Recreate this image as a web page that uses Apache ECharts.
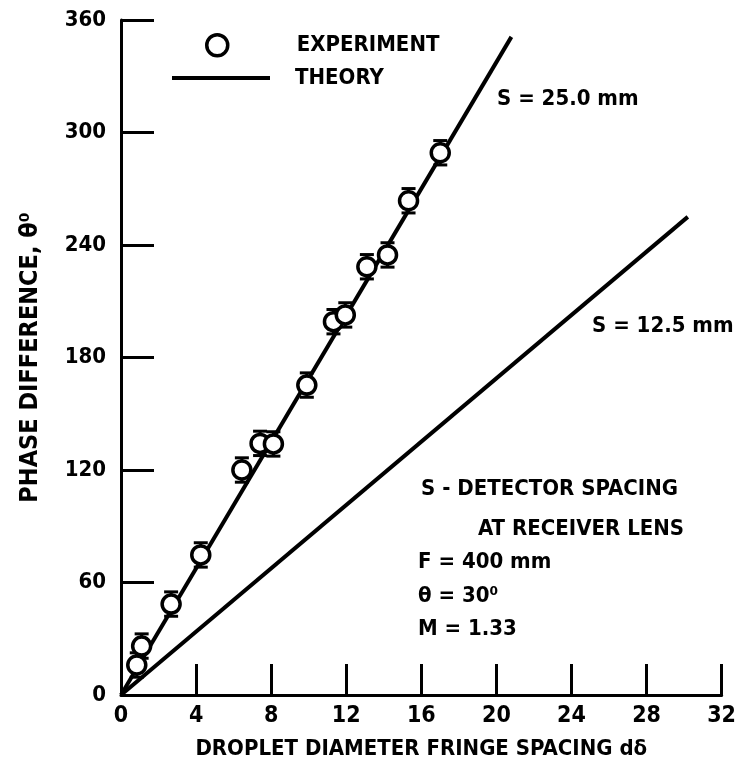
<!DOCTYPE html>
<html>
<head>
<meta charset="utf-8">
<script src="https://cdn.jsdelivr.net/npm/echarts@6/dist/echarts.min.js"></script>
<style>
html,body{margin:0;padding:0;background:#fff;}
#chart{width:739px;height:768px;}
</style>
</head>
<body>
<div id="chart"></div>
<script>
// ---- data ----
const expX   = [0.84, 1.10, 2.67, 4.25, 6.44, 7.41, 8.12, 9.90, 11.32, 11.95, 13.10, 14.20, 15.32, 17.01];
const expY   = [16.0, 26.1, 48.5, 74.7, 120.0, 134.2, 133.9, 165.3, 199.1, 202.7, 228.4, 234.7, 263.6, 289.2];
const expErr = [6.5, 6.5, 6.5, 6.5, 6.5, 6.5, 6.5, 6.5, 6.5, 6.5, 6.5, 6.5, 6.5, 6.5];
const theory25X = [0, 20.8];
const theory25Y = [0, 351];
const theory12X = [0, 30.2];
const theory12Y = [0, 255];
const xTicks = [0, 4, 8, 12, 16, 20, 24, 28, 32];
const yTicks = [0, 60, 120, 180, 240, 300, 360];

const FONT = "'Liberation Sans Narrow', 'DejaVu Sans Condensed', 'Arial Narrow', sans-serif";
const zip = (a, b) => a.map((v, i) => [v, b[i]]);

const chart = echarts.init(document.getElementById('chart'), null, {renderer: 'canvas'});

const txt = (x, y, text, size) => ({
  type: 'text', left: x, top: y,
  style: {text: text, fill: '#000', font: 'bold ' + (size || 22) + 'px ' + FONT}
});

const option = {
  backgroundColor: '#fff',
  animation: false,
  grid: {left: 121, right: 16, top: 20, bottom: 73, containLabel: false},
  xAxis: {
    type: 'value', min: xTicks[0], max: xTicks[xTicks.length - 1], interval: 4,
    name: 'DROPLET DIAMETER FRINGE SPACING dδ',
    nameLocation: 'middle', nameGap: 43,
    nameTextStyle: {color: '#000', fontFamily: FONT, fontWeight: 'bold', fontSize: 22},
    axisLine: {show: true, lineStyle: {color: '#000', width: 3}},
    axisTick: {show: true, inside: true, length: 31, lineStyle: {color: '#000', width: 3}},
    axisLabel: {color: '#000', fontFamily: FONT, fontWeight: 'bold', fontSize: 23, margin: 10},
    splitLine: {show: false}
  },
  yAxis: {
    type: 'value', min: yTicks[0], max: yTicks[yTicks.length - 1], interval: 60,
    name: 'PHASE DIFFERENCE, θ⁰',
    nameLocation: 'middle', nameGap: 78, nameRotate: 90,
    nameTextStyle: {color: '#000', fontFamily: FONT, fontWeight: 'bold', fontSize: 25},
    axisLine: {show: true, lineStyle: {color: '#000', width: 3}},
    axisTick: {show: true, inside: true, length: 33, lineStyle: {color: '#000', width: 3}},
    axisLabel: {color: '#000', fontFamily: FONT, fontWeight: 'bold', fontSize: 22, margin: 15},
    splitLine: {show: false}
  },
  legend: [
    {
      data: [{name: 'EXPERIMENT', icon: 'circle'}],
      left: 200, top: 28, itemWidth: 21, itemHeight: 21,
      itemStyle: {color: '#fff', borderColor: '#000', borderWidth: 3.5, opacity: 1},
      textStyle: {color: '#000', fontFamily: FONT, fontWeight: 'bold', fontSize: 22, padding: [0, 0, 0, 64]},
      selectedMode: false
    },
    {
      data: [{name: 'THEORY', icon: 'rect'}],
      left: 167, top: 62, itemWidth: 98, itemHeight: 4, symbolKeepAspect: false,
      textStyle: {color: '#000', fontFamily: FONT, fontWeight: 'bold', fontSize: 22, padding: [0, 0, 0, 20]},
      selectedMode: false
    }
  ],
  series: [
    {
      name: 'THEORY', type: 'line', data: zip(theory25X, theory25Y),
      showSymbol: false, symbol: 'none', color: '#000',
      lineStyle: {color: '#000', width: 4}, z: 2, silent: true
    },
    {
      name: 'THEORY', type: 'line', data: zip(theory12X, theory12Y),
      showSymbol: false, symbol: 'none', color: '#000',
      lineStyle: {color: '#000', width: 4}, z: 2, silent: true
    },
    {
      name: 'errorbars', type: 'custom',
      data: expX.map((x, i) => [x, expY[i], expErr[i]]),
      z: 3, silent: true,
      renderItem: function (params, api) {
        const x = api.value(0), y = api.value(1), e = api.value(2);
        const hi = api.coord([x, y + e]);
        const lo = api.coord([x, y - e]);
        const hw = 7;
        const st = {stroke: '#000', lineWidth: 3};
        return {
          type: 'group',
          children: [
            {type: 'line', shape: {x1: hi[0], y1: hi[1], x2: lo[0], y2: lo[1]}, style: st},
            {type: 'line', shape: {x1: hi[0] - hw, y1: hi[1], x2: hi[0] + hw, y2: hi[1]}, style: st},
            {type: 'line', shape: {x1: lo[0] - hw, y1: lo[1], x2: lo[0] + hw, y2: lo[1]}, style: st}
          ]
        };
      }
    },
    {
      name: 'EXPERIMENT', type: 'scatter', data: zip(expX, expY),
      symbol: 'circle', symbolSize: 18, color: '#000',
      itemStyle: {color: '#fff', borderColor: '#000', borderWidth: 3.5, opacity: 1},
      z: 4, silent: true
    }
  ],
  graphic: [
    txt(497, 88, 'S = 25.0 mm'),
    txt(592, 315, 'S = 12.5 mm'),
    txt(421, 478, 'S - DETECTOR SPACING'),
    txt(478, 518, 'AT RECEIVER LENS'),
    txt(418, 551, 'F = 400 mm'),
    txt(418, 585, 'θ = 30⁰'),
    txt(418, 618, 'M = 1.33')
  ]
};
chart.setOption(option);
</script>
</body>
</html>
